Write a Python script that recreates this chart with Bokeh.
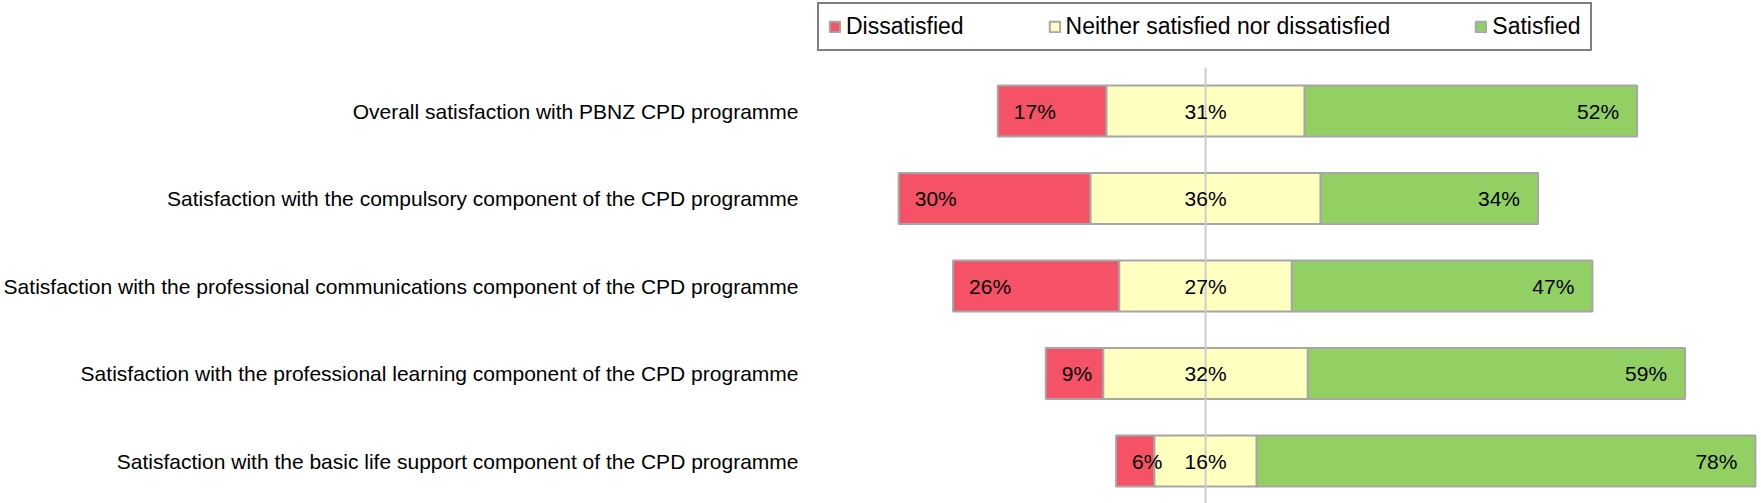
from bokeh.plotting import figure
from bokeh.models import ColumnDataSource, Legend, LegendItem, Range1d, FixedTicker
from bokeh.core.properties import value
from bokeh.embed import file_html
from bokeh.resources import INLINE

categories = [
    "Overall satisfaction with PBNZ CPD programme",
    "Satisfaction with the compulsory component of the CPD programme",
    "Satisfaction with the professional communications component of the CPD programme",
    "Satisfaction with the professional learning component of the CPD programme",
    "Satisfaction with the basic life support component of the CPD programme",
]
dissatisfied = [17, 30, 26, 9, 6]
neutral = [31, 36, 27, 32, 16]
satisfied = [52, 34, 47, 59, 78]
series_names = ["Dissatisfied", "Neither satisfied nor dissatisfied", "Satisfied"]
series_colors = ["#F65267", "#FFFFC0", "#92D064"]

FONT = "Liberation Sans"
W, H = 1761, 503
LEFT = 810
CENTER = 1204.5
PX_PER = 6.4
ROW_PX = 87.5

x_start = -(CENTER - LEFT) / PX_PER
x_end = x_start + (W - LEFT) / PX_PER
n = len(categories)
ypos = [n - 1 - i for i in range(n)]          # first category at the top
y_bottom = -(H - (110.5 + (n - 1) * ROW_PX)) / ROW_PX
y_top = y_bottom + H / ROW_PX
line_top = y_top - 67 / ROW_PX

# segment extents (neutral centred on zero)
d_left = [-(nv / 2 + d) for d, nv in zip(dissatisfied, neutral)]
d_right = [-(nv / 2) for nv in neutral]
n_left = d_right
n_right = [nv / 2 for nv in neutral]
s_left = n_right
s_right = [nv / 2 + s for nv, s in zip(neutral, satisfied)]

p = figure(width=W, height=H,
           x_range=Range1d(x_start, x_end), y_range=Range1d(y_bottom, y_top),
           output_backend="svg", toolbar_location=None,
           min_border_left=LEFT, min_border_right=0,
           min_border_top=0, min_border_bottom=0)
p.xaxis.visible = False
p.xgrid.visible = False
p.ygrid.visible = False
p.outline_line_color = None
p.yaxis.ticker = FixedTicker(ticks=ypos)
p.yaxis.major_label_overrides = {y: c for y, c in zip(ypos, categories)}
p.yaxis.axis_line_color = None
p.yaxis.major_tick_line_color = None
p.yaxis.minor_tick_line_color = None
p.yaxis.major_tick_out = 0
p.yaxis.major_tick_in = 0
p.yaxis.major_label_standoff = 13
p.yaxis.major_label_text_font = FONT
p.yaxis.major_label_text_font_size = "21px"
p.yaxis.major_label_text_color = "#000000"

renderers = []
for lefts, rights, col in [(d_left, d_right, series_colors[0]),
                           (n_left, n_right, series_colors[1]),
                           (s_left, s_right, series_colors[2])]:
    src = ColumnDataSource(dict(y=ypos, left=lefts, right=rights))
    r = p.hbar(y="y", left="left", right="right", height=0.583, source=src,
               fill_color=col, line_color="#A6A6A6", line_width=2)
    renderers.append(r)

# centre reference line
p.segment(x0=[0], x1=[0], y0=[y_bottom], y1=[line_top], line_color="#CCCCCC", line_width=2)

lab_d = ColumnDataSource(dict(y=ypos, x=d_left, t=[f"{v}%" for v in dissatisfied]))
lab_n = ColumnDataSource(dict(y=ypos, x=[0] * n, t=[f"{v}%" for v in neutral]))
lab_s = ColumnDataSource(dict(y=ypos, x=s_right, t=[f"{v}%" for v in satisfied]))
common = dict(text="t", text_font=value(FONT), text_font_size="21px",
              text_color="#000000", text_baseline="middle")
p.text(x="x", y="y", source=lab_d, text_align="left", x_offset=16, **common)
p.text(x="x", y="y", source=lab_n, text_align="center", **common)
p.text(x="x", y="y", source=lab_s, text_align="right", x_offset=-18, **common)

legend = Legend(items=[LegendItem(label=nm, renderers=[r]) for nm, r in zip(series_names, renderers)],
                orientation="horizontal", location=(6, H - 51),
                label_text_font=FONT, label_text_font_size="23px", label_text_color="#000000",
                glyph_width=13, glyph_height=13, label_standoff=5, spacing=84, padding=9,
                margin=0, border_line_color="#000000", border_line_width=2,
                background_fill_color="#FFFFFF", background_fill_alpha=1.0)
p.add_layout(legend)

open("out.html", "w").write(file_html(p, INLINE))
